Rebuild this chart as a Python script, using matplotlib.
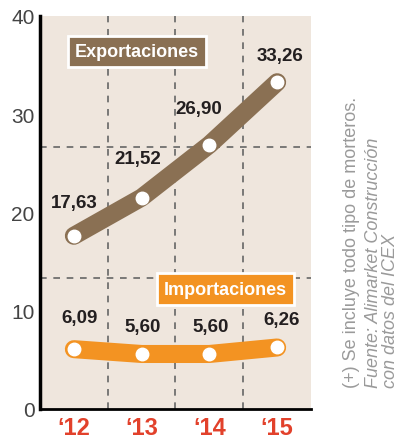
import matplotlib
matplotlib.use("Agg")
import matplotlib.pyplot as plt

COND = "Liberation Sans"

years = ["\u201812", "\u201813", "\u201814", "\u201815"]
exportaciones = [17.63, 21.52, 26.90, 33.26]
importaciones = [6.09, 5.60, 5.60, 6.26]
exp_labels = ["17,63", "21,52", "26,90", "33,26"]
imp_labels = ["6,09", "5,60", "5,60", "6,26"]
yticks = [0, 10, 20, 30, 40]

BROWN = "#8A7053"
ORANGE = "#F39322"
BG = "#EFE6DD"
RED = "#E2412B"
DARK = "#231F20"
GRAY = "#9A9A9A"

fig = plt.figure(figsize=(4.10, 4.39), dpi=100)
ax = fig.add_axes([40/410, 29/439, 271/410, 393/439])
ax.set_facecolor(BG)
x = list(range(len(years)))

ax.set_xlim(-0.5, 3.5)
ax.set_ylim(0, 40)

for gx in [0.5, 1.5, 2.5]:
    ax.axvline(gx, color="#666666", lw=1.2, ls=(0, (4, 4)), zorder=1)
for gy in [40/3, 80/3]:
    ax.axhline(gy, color="#666666", lw=1.2, ls=(0, (4, 4)), zorder=1)

ax.plot(x, exportaciones, color=BROWN, lw=13, solid_capstyle="round", solid_joinstyle="round", zorder=3)
ax.plot(x, exportaciones, ls="none", marker="o", ms=9, mfc="white", mec="white", zorder=4)
ax.plot(x, importaciones, color=ORANGE, lw=13, solid_capstyle="round", solid_joinstyle="round", zorder=3)
ax.plot(x, importaciones, ls="none", marker="o", ms=9, mfc="white", mec="white", zorder=4)

exp_off = [(0, 18), (-3, 22), (-8, 20), (2, 13)]
for xi, yi, lab, off in zip(x, exportaciones, exp_labels, exp_off):
    ax.annotate(lab, (xi, yi), xytext=off, textcoords="offset points", ha="center", va="bottom",
                fontsize=13.5, fontweight="bold", color=DARK, family=COND, zorder=5)
imp_off = [(4, 17), (1, 14), (1, 14), (3, 14)]
for xi, yi, lab, off in zip(x, importaciones, imp_labels, imp_off):
    ax.annotate(lab, (xi, yi), xytext=off, textcoords="offset points", ha="center", va="bottom",
                fontsize=13.5, fontweight="bold", color=DARK, family=COND, zorder=5)

ax.text(0.93, 36.4, "Exportaciones", ha="center", va="center", fontsize=13, fontweight="bold",
        color="white", family=COND, zorder=6,
        bbox=dict(boxstyle="square,pad=0.4", fc=BROWN, ec="white", lw=2))
ax.text(2.24, 12.2, "Importaciones", ha="center", va="center", fontsize=13, fontweight="bold",
        color="white", family=COND, zorder=6,
        bbox=dict(boxstyle="square,pad=0.4", fc=ORANGE, ec="white", lw=2))

ax.set_xticks(x)
ax.set_xticklabels(years, fontsize=17, fontweight="bold", color=RED, family=COND)
ax.set_yticks(yticks)
ax.set_yticklabels([str(v) for v in yticks], fontsize=15, color="#444444", family="Liberation Sans")
ax.tick_params(axis="both", length=0, pad=4)
ax.tick_params(axis="x", pad=5)
for s in ["top", "right"]:
    ax.spines[s].set_visible(False)
ax.spines["left"].set_linewidth(2.5)
ax.spines["bottom"].set_linewidth(2)
ax.spines["left"].set_color("black")
ax.spines["bottom"].set_color("black")

fig.text(352/410, 1 - 388/439, "(+) Se incluye todo tipo de morteros.", rotation=90, ha="center", va="bottom",
         fontsize=13, color=GRAY, family=COND)
fig.text(374/410, 1 - 388/439, "Fuente: Alimarket Construcción", rotation=90, ha="center", va="bottom",
         fontsize=13, color=GRAY, family=COND, style="italic")
fig.text(391/410, 1 - 388/439, "con datos del ICEX", rotation=90, ha="center", va="bottom",
         fontsize=13, color=GRAY, family=COND, style="italic")

fig.savefig("out.png", dpi=100)
